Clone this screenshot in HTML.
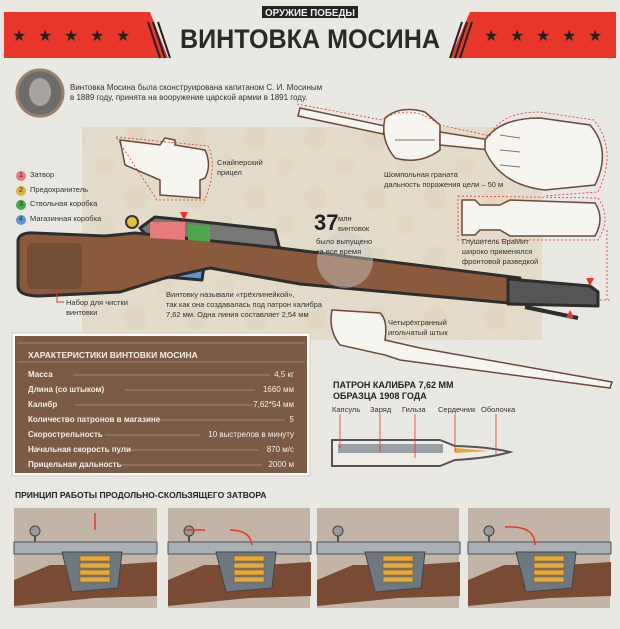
<!DOCTYPE html>
<html><head><meta charset="utf-8"><style>
body{margin:0;width:620px;height:629px;background:#e9e8e3;font-family:"Liberation Sans","Noto Sans CJK SC",sans-serif;overflow:hidden;position:relative}
.a{position:absolute}
.t{font-size:7.5px;color:#333;line-height:10px}
.n{display:inline-block;width:10px;height:10px;border-radius:5px;color:#333;text-align:center;font-size:7px;line-height:10px;margin-right:4px}
</style></head><body>
<svg class="a" style="left:0;top:0" width="620" height="629" viewBox="0 0 620 629">
<defs>
<pattern id="p" width="60" height="60" patternUnits="userSpaceOnUse"><rect width="60" height="60" fill="#e4dccb"/><circle cx="15" cy="18" r="12" fill="#ddd2ba" opacity=".5"/><circle cx="45" cy="45" r="10" fill="#dfd5bf" opacity=".5"/></pattern>
</defs>
<rect x="4" y="12" width="612" height="46" fill="#e8362b"/>
<polygon points="150,12 470,12 450,58 168,58" fill="#e9e8e3"/>
<g stroke="#222" stroke-width="2"><line x1="148" y1="22" x2="160" y2="58"/><line x1="153" y1="22" x2="165" y2="58"/><line x1="158" y1="22" x2="170" y2="58"/><line x1="472" y1="22" x2="460" y2="58"/><line x1="467" y1="22" x2="455" y2="58"/><line x1="462" y1="22" x2="450" y2="58"/></g>
<g fill="#222" font-size="16" font-family="DejaVu Sans">
<text x="12" y="41">★</text><text x="38" y="41">★</text><text x="64" y="41">★</text><text x="90" y="41">★</text><text x="116" y="41">★</text>
<text x="484" y="41">★</text><text x="510" y="41">★</text><text x="536" y="41">★</text><text x="562" y="41">★</text><text x="588" y="41">★</text>
</g>
<rect x="262" y="6" width="96" height="12" fill="#222"/>
<text x="310" y="16" text-anchor="middle" font-size="10" font-weight="bold" fill="#eee" textLength="90" lengthAdjust="spacingAndGlyphs">ОРУЖИЕ ПОБЕДЫ</text>
<text x="310" y="48" text-anchor="middle" font-size="27" font-weight="bold" fill="#2a2a2a" textLength="260" lengthAdjust="spacingAndGlyphs">ВИНТОВКА МОСИНА</text>
<circle cx="40" cy="93" r="23" fill="#6c6c6a" stroke="#9a7f6a" stroke-width="3"/>
<ellipse cx="40" cy="92" rx="11" ry="14" fill="#a8a5a0"/>
<rect x="82" y="127" width="460" height="213" fill="url(#p)"/>
<g fill="#f7f5f0" stroke="#6b4a3a" stroke-width="1.5">
<path d="M300,108 L385,126 L383,134 L298,116 Z"/>
<path d="M385,118 Q400,105 425,112 L440,125 L440,150 Q420,165 395,158 Q380,140 385,118 Z"/>
<path d="M440,132 L490,140 L490,150 L440,145 Z"/>
<path d="M485,140 Q500,118 540,118 L590,125 Q612,150 595,185 L545,190 Q500,185 485,150 Z"/>
<path d="M462,200 L475,200 L480,205 L500,205 L510,200 L595,203 Q605,218 595,236 L510,236 L500,230 L480,230 L475,235 L462,235 Z"/>
<path d="M120,140 L160,145 L165,138 L175,140 L175,145 L205,150 Q212,165 205,178 L200,180 L200,198 L160,195 L160,180 L125,165 Z"/>
<path d="M332,310 L380,313 Q388,320 385,340 L420,348 L612,382 L610,388 L400,360 L385,355 L340,345 Q328,330 332,310 Z"/>
</g>
<g fill="none" stroke="#8b7060" stroke-width="1"><line x1="500" y1="135" x2="520" y2="138"/><line x1="500" y1="150" x2="520" y2="152"/><line x1="500" y1="165" x2="520" y2="167"/><line x1="395" y1="140" x2="435" y2="140"/></g>
<g fill="none" stroke="#e8362b" stroke-width="0.8" stroke-dasharray="2,2">
<path d="M297,104 L382,120 Q410,102 440,125 L490,136 Q500,112 540,112 L594,120 Q618,150 598,192 L544,196"/>
<path d="M458,196 L598,198 Q612,218 598,240 L458,240 Z"/>
<path d="M116,137 L208,146 Q218,165 205,200 L157,200 Z"/>
<line x1="607" y1="230" x2="607" y2="300"/>
<line x1="610" y1="300" x2="595" y2="300"/>
</g>
<g stroke="#2d2d2d" stroke-width="3" stroke-linejoin="round">
<path d="M140,228 L155,217 L185,220 L275,230 L280,250 L150,240 Z" fill="#777"/>
<path d="M150,252 L205,258 L202,280 L155,276 Z" fill="#5f96d0"/>
<path d="M18,240 Q20,232 35,233 L105,236 L135,233 L280,248 L520,278 L520,304 L300,284 L210,268 L165,278 L120,292 L40,296 Q18,296 18,286 Z" fill="#8b5a3c"/>
<path d="M508,279 L590,286 L598,292 L598,306 L508,304 Z" fill="#555"/>
<line x1="525" y1="307" x2="578" y2="318" stroke-width="4"/>
</g>
<path d="M150,222 L185,222 L185,240 L150,238 Z" fill="#e87b7b"/>
<path d="M188,224 L210,226 L210,242 L188,240 Z" fill="#4ca84a"/>
<circle cx="132" cy="222" r="6" fill="#e2c23a" stroke="#333" stroke-width="2"/>
<rect x="27" y="243" width="55" height="46" rx="6" fill="#6e4a35" opacity=".8"/>
<circle cx="345" cy="260" r="28" fill="#ccc" opacity=".45"/>
<g fill="#e8362b"><path d="M180,212 L188,212 L184,220Z"/><path d="M586,278 L594,278 L590,286Z"/><path d="M566,318 L574,318 L570,310Z"/></g>
<path d="M57,292 L57,302 L64,302" fill="none" stroke="#e8362b"/>
<rect x="12" y="333" width="298" height="143" fill="#fdfcf8" stroke="#ccc"/>
<rect x="15" y="336" width="292" height="137" fill="#7b5b46"/>
<g stroke="#c9b9a8" stroke-width="0.6">
<line x1="17" y1="343" x2="305" y2="343"/><line x1="17" y1="362" x2="305" y2="362"/>
<line x1="73" y1="375" x2="270" y2="375"/><line x1="125" y1="390" x2="255" y2="390"/><line x1="75" y1="405" x2="253" y2="405"/><line x1="160" y1="420" x2="285" y2="420"/><line x1="105" y1="435" x2="200" y2="435"/><line x1="130" y1="450" x2="258" y2="450"/><line x1="120" y1="465" x2="262" y2="465"/>
</g>
<path d="M332,440 L440,440 L455,446 Q490,447 510,452 Q490,458 455,460 L440,466 L332,466 Z" fill="#f0ece5" stroke="#555" stroke-width="2"/>
<rect x="338" y="444" width="105" height="9" fill="#9aa0a8"/>
<path d="M455,448 L490,451 L455,453 Z" fill="#e8a93a"/>
<g stroke="#e8362b" stroke-width="0.8"><line x1="340" y1="414" x2="340" y2="448"/><line x1="380" y1="414" x2="380" y2="452"/><line x1="415" y1="414" x2="415" y2="458"/><line x1="455" y1="414" x2="455" y2="452"/><line x1="496" y1="414" x2="496" y2="455"/></g>
<g fill="#c2b4a6"><rect x="14" y="508" width="143" height="100"/><rect x="168" y="508" width="142" height="100"/><rect x="317" y="508" width="142" height="100"/><rect x="468" y="508" width="142" height="100"/></g>
<g id="m">
<path d="M14,580 L50,565 L110,565 L157,562 L157,596 L95,598 L14,606 Z" fill="#7a4b34"/>
<rect x="14" y="542" width="143" height="12" fill="#a9afb4" stroke="#555"/>
<path d="M62,552 L122,552 L118,588 L72,592 Z" fill="#6e7880" stroke="#444"/>
<line x1="35" y1="535" x2="35" y2="542" stroke="#555" stroke-width="2"/>
<circle cx="35" cy="531" r="5" fill="#999" stroke="#444"/>
<g fill="#e8a93a" stroke="#7a5a20" stroke-width=".5"><rect x="80" y="556" width="30" height="5"/><rect x="80" y="563" width="30" height="5"/><rect x="80" y="570" width="30" height="5"/><rect x="80" y="577" width="30" height="5"/></g>
</g>
<use href="#m" x="154"/><use href="#m" x="303"/><use href="#m" x="454"/>
<g fill="none" stroke="#e8362b" stroke-width="1.5"><line x1="95" y1="513" x2="95" y2="530"/><line x1="185" y1="530" x2="205" y2="530"/><path d="M230,530 Q250,530 252,545"/><path d="M505,527 Q535,525 535,545"/></g>
</svg>
<div class="a t" style="left:70px;top:83px;font-size:8px">Винтовка Мосина была сконструирована капитаном С. И. Мосиным<br>в 1889 году, принята на вооружение царской армии в 1891 году.</div>
<div class="a t" style="left:16px;top:168px;line-height:14.5px"><span class="n" style="background:#e87b86">1</span>Затвор<br><span class="n" style="background:#d9b53a">2</span>Предохранитель<br><span class="n" style="background:#4ca84a">3</span>Ствольная коробка<br><span class="n" style="background:#5f96d0">4</span>Магазинная коробка</div>
<div class="a t" style="left:217px;top:158px">Снайперский<br>прицел</div>
<div class="a t" style="left:384px;top:170px">Шомпольная граната<br>дальность поражения цели – 50 м</div>
<div class="a t" style="left:462px;top:237px">Глушитель БраМит<br>широко применялся<br>фронтовой разведкой</div>
<div class="a" style="left:314px;top:210px;font-size:22px;font-weight:bold;color:#222">37</div>
<div class="a t" style="left:338px;top:214px">млн<br>винтовок</div>
<div class="a t" style="left:316px;top:237px">было выпущено<br>за все время</div>
<div class="a t" style="left:66px;top:298px">Набор для чистки<br>винтовки</div>
<div class="a t" style="left:166px;top:290px">Винтовку называли «трёхлинейкой»,<br>так как она создавалась под патрон калибра<br>7,62 мм. Одна линия составляет 2,54 мм</div>
<div class="a t" style="left:388px;top:318px">Четырёхгранный<br>игольчатый штык</div>
<div class="a" style="left:28px;top:350px;font-size:8.5px;font-weight:bold;color:#f3eee8">ХАРАКТЕРИСТИКИ ВИНТОВКИ МОСИНА</div>
<div class="a" style="left:28px;top:367px;width:266px;font-size:8px;color:#f3eee8;line-height:15px">
<div style="display:flex;justify-content:space-between"><b>Масса</b><span>4,5 кг</span></div>
<div style="display:flex;justify-content:space-between"><b>Длина (со штыком)</b><span>1660 мм</span></div>
<div style="display:flex;justify-content:space-between"><b>Калибр</b><span>7,62*54 мм</span></div>
<div style="display:flex;justify-content:space-between"><b>Количество патронов в магазине</b><span>5</span></div>
<div style="display:flex;justify-content:space-between"><b>Скорострельность</b><span>10 выстрелов в минуту</span></div>
<div style="display:flex;justify-content:space-between"><b>Начальная скорость пули</b><span>870 м/с</span></div>
<div style="display:flex;justify-content:space-between"><b>Прицельная дальность</b><span>2000 м</span></div>
</div>
<div class="a" style="left:333px;top:380px;font-size:9px;font-weight:bold;color:#222;line-height:11px">ПАТРОН КАЛИБРА 7,62 ММ<br>ОБРАЗЦА 1908 ГОДА</div>
<div class="a t" style="left:332px;top:405px">Капсуль</div>
<div class="a t" style="left:370px;top:405px">Заряд</div>
<div class="a t" style="left:402px;top:405px">Гильза</div>
<div class="a t" style="left:438px;top:405px">Сердечник</div>
<div class="a t" style="left:481px;top:405px">Оболочка</div>
<div class="a" style="left:15px;top:490px;font-size:8.5px;font-weight:bold;color:#222">ПРИНЦИП РАБОТЫ ПРОДОЛЬНО-СКОЛЬЗЯЩЕГО ЗАТВОРА</div>
</body></html>
